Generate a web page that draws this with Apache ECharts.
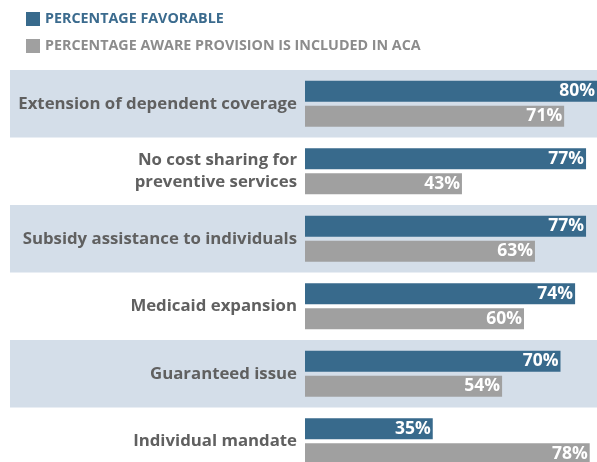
<!DOCTYPE html>
<html>
<head>
<meta charset="utf-8">
<script src="https://cdn.jsdelivr.net/npm/echarts@6/dist/echarts.min.js"></script>
<style>
  html, body { margin: 0; padding: 0; background: #fff; }
  #chart { width: 597px; height: 462px; }
</style>
</head>
<body>
<div id="chart"></div>
<script>
// data
var categories = [
  "Extension of dependent coverage",
  "No cost sharing for\npreventive services",
  "Subsidy assistance to individuals",
  "Medicaid expansion",
  "Guaranteed issue",
  "Individual mandate"
];
var favorable = [80, 77, 77, 74, 70, 35];
var aware = [71, 43, 63, 60, 54, 78];
var seriesNames = ["PERCENTAGE FAVORABLE", "PERCENTAGE AWARE PROVISION IS INCLUDED IN ACA"];

var blue = "#386a8c";
var gray = "#a0a0a0";
var band = "#d4dee9";
var font = "Open Sans";

var chart = echarts.init(document.getElementById("chart"));

var valueLabel = {
  show: true,
  position: "insideRight",
  distance: 2,
  formatter: "{c}%",
  color: "#fff",
  fontFamily: font,
  fontWeight: "bold",
  fontSize: 17.5,
};

chart.setOption({
  animation: false,
  legend: {
    orient: "vertical",
    left: 21,
    top: 7,
    itemWidth: 14,
    itemHeight: 14,
    itemGap: 13,
    icon: "rect",
    selectedMode: false,
    textStyle: { fontFamily: font, fontWeight: "bold", fontSize: 14.3 },
    data: [
      { name: seriesNames[0], textStyle: { color: "#3b6b8e" } },
      { name: seriesNames[1], textStyle: { color: "#8c8c8c" } },
    ],
  },
  grid: [
    // background bands, the last row runs past the bottom edge
    { left: 10, right: 0, top: 70, height: 405, outerBoundsMode: "none" },
    // bars
    { left: 305, right: 0, top: 70, height: 405, outerBoundsMode: "none" },
  ],
  xAxis: [
    { gridIndex: 0, type: "value", show: false },
    { gridIndex: 1, type: "value", min: 0, max: 80, show: false },
  ],
  yAxis: [
    {
      gridIndex: 0,
      type: "category",
      inverse: true,
      data: categories,
      axisLine: { show: false },
      axisTick: { show: false },
      axisLabel: { show: false },
      splitArea: { show: true, areaStyle: { color: [band, "rgba(255,255,255,0)"] } },
    },
    {
      gridIndex: 1,
      type: "category",
      inverse: true,
      data: categories,
      axisLine: { show: false },
      axisTick: { show: false },
      axisLabel: {
        margin: 8,
        color: "#606060",
        fontFamily: font,
        fontWeight: "bold",
        fontSize: 16.8,
        lineHeight: 22,
      },
    },
  ],
  series: [
    {
      name: seriesNames[0],
      type: "bar",
      xAxisIndex: 1,
      yAxisIndex: 1,
      data: favorable,
      barWidth: 21,
      barGap: "19%",
      itemStyle: { color: blue },
      label: valueLabel,
    },
    {
      name: seriesNames[1],
      type: "bar",
      xAxisIndex: 1,
      yAxisIndex: 1,
      data: aware,
      barWidth: 21,
      itemStyle: { color: gray },
      label: valueLabel,
    },
  ],
});
</script>
</body>
</html>
